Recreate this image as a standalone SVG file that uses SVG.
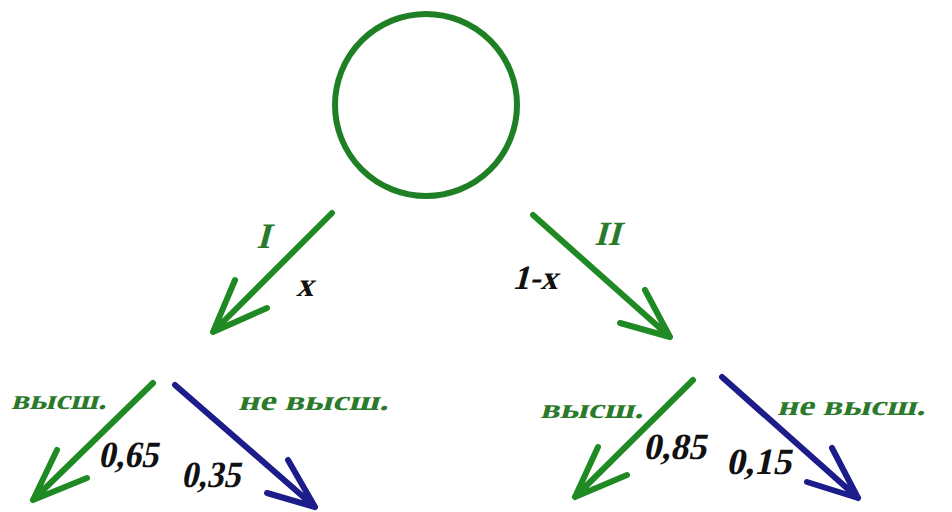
<svg xmlns="http://www.w3.org/2000/svg" width="952" height="512" viewBox="0 0 952 512">
<defs>
<style>
.g{stroke:#1f8a24;stroke-width:6;fill:none;stroke-linecap:round;stroke-linejoin:round}
.b{stroke:#1c1c8a;stroke-width:6;fill:none;stroke-linecap:round;stroke-linejoin:round}
.t{font-family:"Liberation Serif",serif;font-style:normal;font-weight:bold}
.gt{fill:#2b7a2b}
.k{fill:#111}
</style>
</defs>
<rect width="952" height="512" fill="#fff"/>
<g id="root">
<circle cx="426" cy="105" r="91" fill="none" stroke="#1f7f24" stroke-width="6"/>
</g>
<g id="connectors">
<path class="g" d="M332,213 L213,332 M235,280 L213,332 L267,308"/>
<path class="g" d="M533,215 L670,337 M645,290 L670,337 L620,323"/>
<path class="g" d="M153,383 L33,500 M57,450 L33,500 L87,478"/>
<path class="b" d="M175,385 L315,507 M288,460 L315,507 L267,493"/>
<path class="g" d="M693,380 L575,497 M598,447 L575,497 L627,475"/>
<path class="b" d="M722,377 L858,498 M832,448 L858,498 L807,482"/>
</g>
<g id="labels">
<text class="t gt" transform="translate(256,248) skewX(-15)" font-size="36">I</text>
<text class="t k" transform="translate(296,296) skewX(-15)" font-size="34">x</text>
<text class="t gt" transform="translate(594,245) skewX(-15)" font-size="34">II</text>
<text class="t k" transform="translate(512,289) skewX(-15)" font-size="34">1-x</text>
</g>
<g id="node-left">
<text class="t gt" transform="translate(11,409) skewX(-15)" font-size="28" textLength="95" lengthAdjust="spacingAndGlyphs">высш.</text>
<text class="t gt" transform="translate(238,410) skewX(-15)" font-size="28" textLength="150" lengthAdjust="spacingAndGlyphs">не высш.</text>
<text class="t k" transform="translate(98,467) skewX(-12)" font-size="37" textLength="60" lengthAdjust="spacingAndGlyphs">0,65</text>
<text class="t k" transform="translate(181,487) skewX(-12)" font-size="37" textLength="59" lengthAdjust="spacingAndGlyphs">0,35</text>
</g>
<g id="node-right">
<text class="t gt" transform="translate(540,418) skewX(-15)" font-size="28" textLength="103" lengthAdjust="spacingAndGlyphs">высш.</text>
<text class="t gt" transform="translate(777,415) skewX(-15)" font-size="28" textLength="148" lengthAdjust="spacingAndGlyphs">не высш.</text>
<text class="t k" transform="translate(643,459) skewX(-12)" font-size="37" textLength="63" lengthAdjust="spacingAndGlyphs">0,85</text>
<text class="t k" transform="translate(726,474) skewX(-12)" font-size="37" textLength="65" lengthAdjust="spacingAndGlyphs">0,15</text>
</g>
</svg>
